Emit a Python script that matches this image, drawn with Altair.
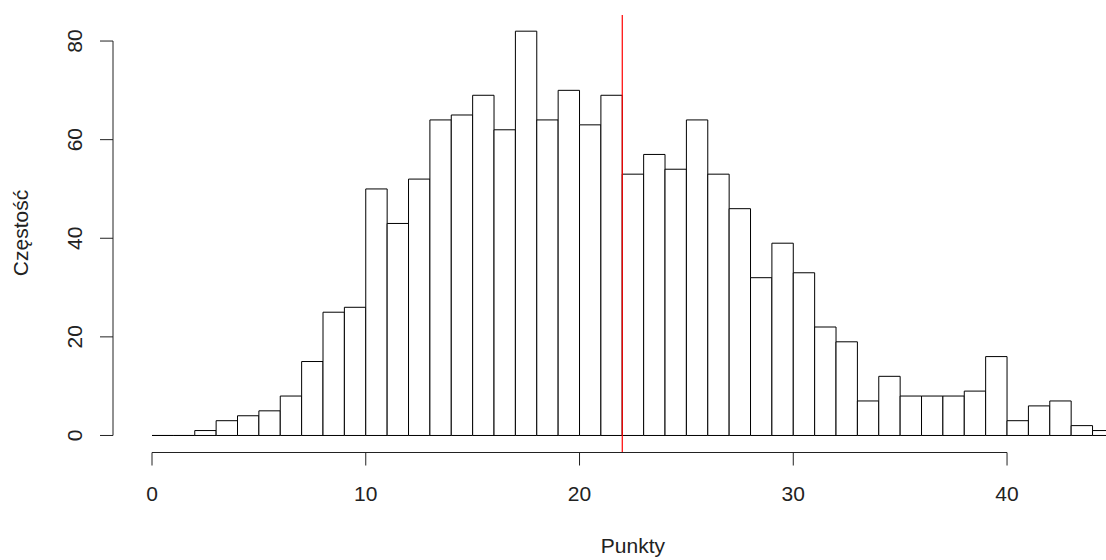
import altair as alt
import pandas as pd

# Histogram data (bin width 1, starting at 0)
bin_starts = list(range(0, 45))
counts = [0, 0, 1, 3, 4, 5, 8, 15, 25, 26,
          50, 43, 52, 64, 65, 69, 62, 82, 64, 70,
          63, 69, 53, 57, 54, 64, 53, 46, 32, 39,
          33, 22, 19, 7, 12, 8, 8, 8, 9, 16,
          3, 6, 7, 2, 1]
mean_line = 22
x_ticks = [0, 10, 20, 30, 40]
y_ticks = [0, 20, 40, 60, 80]
x_title = "Punkty"
y_title = "Częstość"

FONT = "Liberation Sans"
FS = 21
W, H = 993, 437

bars_df = pd.DataFrame({"start": bin_starts,
                        "end": [b + 1 for b in bin_starts],
                        "count": counts})
xs = alt.Scale(domain=[-1.825, 44.63], nice=False, zero=False)
ys = alt.Scale(domain=[-3.35, 85.28], nice=False, zero=False)

bars = alt.Chart(bars_df).mark_rect(fill="white", stroke="black", strokeWidth=1, clip=True).encode(
    x=alt.X("start:Q", scale=xs, axis=None),
    x2="end:Q",
    y=alt.Y("count:Q", scale=ys, axis=None),
    y2=alt.Y2(datum=0),
)

red = alt.Chart(pd.DataFrame({"v": [mean_line]})).mark_rule(color="#FF0000", strokeWidth=1.2).encode(
    x=alt.X("v:Q", scale=xs),
    y=alt.value(0),
    y2=alt.value(H),
)

yt_df = pd.DataFrame({"t": y_ticks, "lab": [str(t) for t in y_ticks]})
xt_df = pd.DataFrame({"t": x_ticks, "lab": [str(t) for t in x_ticks]})
yline_df = pd.DataFrame({"a": [y_ticks[0]], "b": [y_ticks[-1]]})
xline_df = pd.DataFrame({"a": [x_ticks[0]], "b": [x_ticks[-1]]})

y_line = alt.Chart(yline_df).mark_rule(color="#222", strokeWidth=1).encode(
    x=alt.value(0), y=alt.Y("a:Q", scale=ys), y2="b:Q")
y_tk = alt.Chart(yt_df).mark_rule(color="#222", strokeWidth=1).encode(
    x=alt.value(-13), x2=alt.value(0), y=alt.Y("t:Q", scale=ys))
y_lab = alt.Chart(yt_df).mark_text(font=FONT, fontSize=FS, angle=270, align="center",
                                   baseline="alphabetic", color="#222").encode(
    x=alt.value(-31), y=alt.Y("t:Q", scale=ys), text="lab:N")

x_line = alt.Chart(xline_df).mark_rule(color="#222", strokeWidth=1).encode(
    y=alt.value(H + 0.5), x=alt.X("a:Q", scale=xs), x2="b:Q")
x_tk = alt.Chart(xt_df).mark_rule(color="#222", strokeWidth=1).encode(
    y=alt.value(H + 0.5), y2=alt.value(H + 13.5), x=alt.X("t:Q", scale=xs))
x_lab = alt.Chart(xt_df).mark_text(font=FONT, fontSize=FS, align="center",
                                   baseline="alphabetic", color="#222").encode(
    x=alt.X("t:Q", scale=xs), y=alt.value(486), text="lab:N")

x_ttl = alt.Chart(pd.DataFrame({"v": [22.5], "lab": [x_title]})).mark_text(
    font=FONT, fontSize=FS, align="center", baseline="alphabetic", color="#222").encode(
    x=alt.X("v:Q", scale=xs), y=alt.value(538), text="lab:N")
y_ttl = alt.Chart(pd.DataFrame({"lab": [y_title]})).mark_text(
    font=FONT, fontSize=FS, angle=270, align="center", baseline="alphabetic", color="#222").encode(
    x=alt.value(-85), y=alt.value(218), text="lab:N")

chart = alt.layer(bars, red, y_line, y_tk, y_lab, x_line, x_tk, x_lab, x_ttl, y_ttl).properties(
    width=W, height=H,
    autosize=alt.AutoSizeParams(type="none"),
    padding={"left": 113, "top": 15, "right": 0, "bottom": 108},
    background="white",
).configure_view(stroke=None)

chart.save("out.html", embed_options={"renderer": "svg", "actions": False})
